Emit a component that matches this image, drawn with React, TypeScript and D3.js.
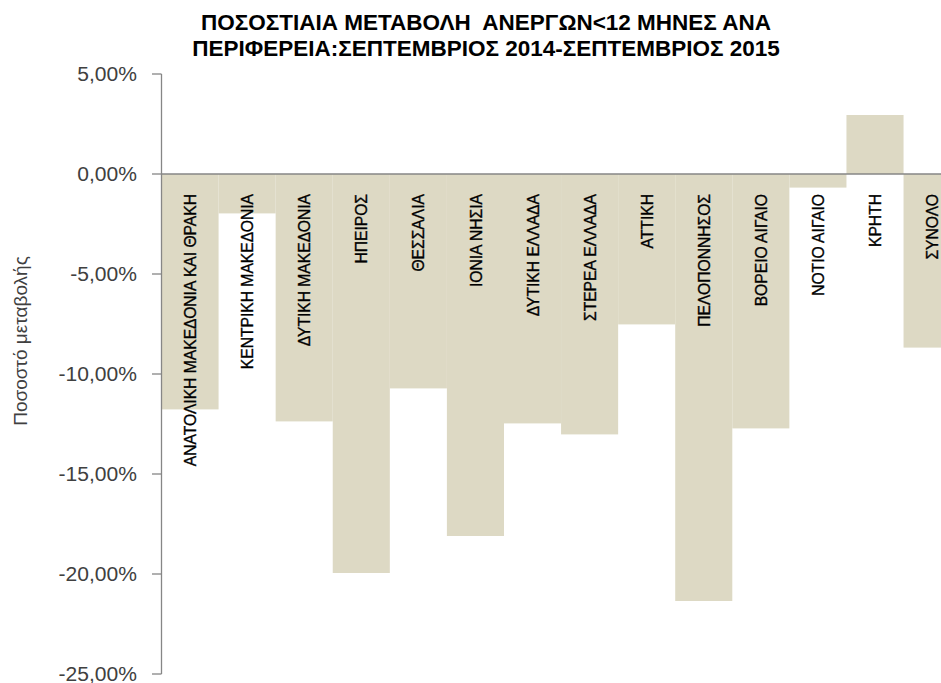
import * as d3 from 'd3'

const W = 941
const H = 683

const categories = [
  'ΑΝΑΤΟΛΙΚΗ ΜΑΚΕΔΟΝΙΑ ΚΑΙ ΘΡΑΚΗ',
  'ΚΕΝΤΡΙΚΗ ΜΑΚΕΔΟΝΙΑ',
  'ΔΥΤΙΚΗ ΜΑΚΕΔΟΝΙΑ',
  'ΗΠΕΙΡΟΣ',
  'ΘΕΣΣΑΛΙΑ',
  'ΙΟΝΙΑ ΝΗΣΙΑ',
  'ΔΥΤΙΚΗ ΕΛΛΑΔΑ',
  'ΣΤΕΡΕΑ ΕΛΛΑΔΑ',
  'ΑΤΤΙΚΗ',
  'ΠΕΛΟΠΟΝΝΗΣΟΣ',
  'ΒΟΡΕΙΟ ΑΙΓΑΙΟ',
  'ΝΟΤΙΟ ΑΙΓΑΙΟ',
  'ΚΡΗΤΗ',
  'ΣΥΝΟΛΟ',
]

// percentage change, Sept 2014 -> Sept 2015
const changes = [
  -11.77, -1.97, -12.37, -19.95, -10.72, -18.1, -12.47,
  -13.02, -7.52, -21.35, -12.72, -0.68, 2.95, -8.68,
]

const yTicks = [5, 0, -5, -10, -15, -20, -25]

const titleLines = [
  'ΠΟΣΟΣΤΙΑΙΑ ΜΕΤΑΒΟΛΗ  ΑΝΕΡΓΩΝ<12 ΜΗΝΕΣ ΑΝΑ',
  'ΠΕΡΙΦΕΡΕΙΑ:ΣΕΠΤΕΜΒΡΙΟΣ 2014-ΣΕΠΤΕΜΒΡΙΟΣ 2015',
]

const FONT = '"Liberation Sans", Arial, sans-serif'

export default function App() {
  const x = d3.scaleBand<string>()
    .domain(categories)
    .range([161.5, 161.5 + 14 * 57.08])
    .padding(0)

  const y = d3.scaleLinear()
    .domain([-25, 5])
    .range([674, 74])

  const fmt = (v: number) => v.toFixed(2).replace('.', ',') + '%'

  return (
    <svg width={W} height={H} style={{ position: 'absolute', left: 0, top: 0, background: '#fff' }}>
      {/* Title */}
      {titleLines.map((t, i) => (
        <text key={i} x={486} y={30 + i * 26} textAnchor="middle" fontFamily={FONT}
          fontWeight="bold" fontSize={22.5} fill="#000" style={{ whiteSpace: 'pre' }}>
          {t}
        </text>
      ))}

      {/* Bars */}
      {categories.map((c, i) => {
        const v = changes[i]
        return (
          <rect key={c} x={x(c)} width={x.bandwidth()}
            y={Math.min(y(v), y(0))} height={Math.abs(y(v) - y(0))} fill="#ddd9c4" />
        )
      })}

      {/* Zero line */}
      <line x1={161.5} x2={W} y1={y(0)} y2={y(0)} stroke="#868686" strokeWidth={1.3} />

      {/* Y axis */}
      <line x1={161.5} x2={161.5} y1={y(5)} y2={y(-25)} stroke="#868686" strokeWidth={1.3} />
      {yTicks.map(t => (
        <g key={t} transform={`translate(0, ${y(t)})`}>
          <line x1={152} x2={161.5} stroke="#868686" strokeWidth={1.3} />
          <text x={137} dy="0.36em" textAnchor="end" fontFamily={FONT} fontSize={19.5}
            fill="#404040" transform="translate(137,0) scale(1.08,1) translate(-137,0)">
            {fmt(t)}
          </text>
        </g>
      ))}

      {/* Y axis title */}
      <text transform="translate(27, 341) rotate(-90)" textAnchor="middle" fontFamily={FONT}
        fontSize={19} fill="#404040">
        Ποσοστό μεταβολής
      </text>

      {/* Category labels */}
      {categories.map(c => (
        <text key={c}
          transform={`translate(${(x(c) ?? 0) + x.bandwidth() / 2}, 194) rotate(-90) scale(0.92, 1)`}
          textAnchor="end" dy="0.36em" fontFamily={FONT} fontSize={17} fill="#000"
          stroke="#000" strokeWidth={0.35}>
          {c}
        </text>
      ))}
    </svg>
  )
}
